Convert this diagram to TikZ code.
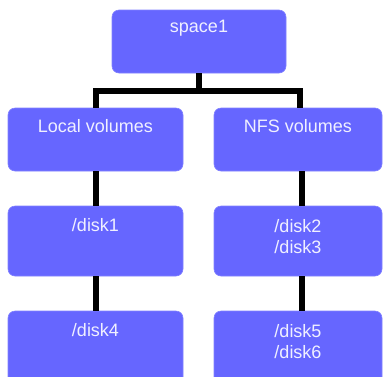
\documentclass[tikz,border=0pt]{standalone}
\usepackage{fontspec}
\setmainfont{Liberation Sans}
\usetikzlibrary{calc}
\definecolor{boxblue}{RGB}{102,102,255}
\definecolor{boxedge}{RGB}{130,130,255}
\definecolor{txt}{RGB}{240,240,255}
\begin{document}
\begin{tikzpicture}[x=1pt,y=-1pt,
  box/.style={fill=boxblue,draw=boxedge,line width=0.6pt,rounded corners=7pt},
  lbl/.style={text=txt,anchor=north,inner sep=0pt,align=center,
    font=\fontsize{18}{21}\selectfont},
  conn/.style={line width=5.5pt,draw=black,line join=miter,line cap=butt}]
\useasboundingbox (0,0) rectangle (383,376);
\clip (0,0) rectangle (383,376);
% boxes
\path[box] (112,10) rectangle (286,73);
\node[inner sep=0,minimum width=174pt,minimum height=63pt] (space1) at (199,41.5) {};
\node[inner sep=0,minimum width=175pt,minimum height=63pt] (local) at (95.5,139.5) {};
\node[inner sep=0,minimum width=168pt,minimum height=63pt] (nfs) at (298,139.5) {};
\node[inner sep=0,minimum width=175pt,minimum height=70pt] (d1) at (95.5,241) {};
\node[inner sep=0,minimum width=168pt,minimum height=70pt] (d23) at (298,241) {};
\node[inner sep=0,minimum width=175pt,minimum height=74pt] (d4) at (95.5,348) {};
\node[inner sep=0,minimum width=168pt,minimum height=74pt] (d56) at (298,348) {};
\path[box] (8,108) rectangle (183,171);
\path[box] (214,108) rectangle (382,171);
\path[box] (8,206) rectangle (183,276);
\path[box] (214,206) rectangle (382,276);
\path[box] (8,311) rectangle (183,385);
\path[box] (214,311) rectangle (382,385);
% connectors
\coordinate (j) at ($(space1.south)+(0,18)$);
\coordinate (jl) at ($(local.north)+(0.5,-17)$);
\coordinate (jr) at ($(nfs.north)+(2,-17)$);
\draw[conn] (space1.south) -- (j);
\draw[conn] ($(local.north)+(0.5,0)$) -- (jl) -- (jr) -- ($(nfs.north)+(2,0)$);
\draw[conn] ($(local.south)+(0.5,0)$) -- ($(d1.north)+(0.5,0)$);
\draw[conn] ($(d1.south)+(0.5,0)$) -- ($(d4.north)+(0.5,0)$);
\draw[conn] ($(nfs.south)+(4,0)$) -- ($(d23.north)+(4,0)$);
\draw[conn] ($(d23.south)+(4,0)$) -- ($(d56.north)+(4,0)$);
% labels
\node[lbl] (t0) at ($(space1.north)+(0,10.5)$) {space1};
\node[lbl] (t1) at ($(local.north)+(0,11)$) {Local volumes};
\node[lbl] (t2) at ($(nfs.north)+(0,11)$) {NFS volumes};
\node[lbl] (t3) at ($(d1.north)+(0,12)$) {/disk1};
\node[lbl] (t4) at ($(d23.north)+(0,13)$) {/disk2\\/disk3};
\node[lbl] (t5) at ($(d4.north)+(0,12)$) {/disk4};
\node[lbl] (t6) at ($(d56.north)+(0,13)$) {/disk5\\/disk6};
\end{tikzpicture}
\end{document}
